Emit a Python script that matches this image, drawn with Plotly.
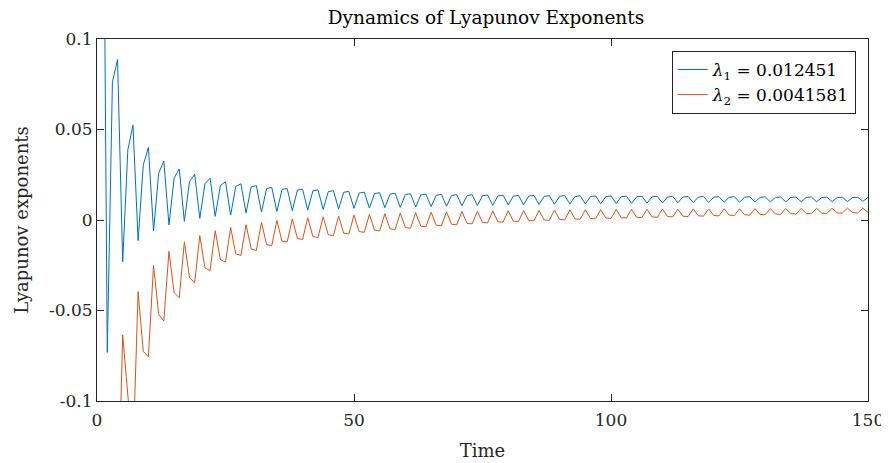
import plotly.graph_objects as go

# time steps
time = list(range(1, 151))

# lambda_1 running estimate (blue)
lyap1 = [
    0.3000, -0.0732, 0.0762, 0.0887, -0.0231, 0.0387, 0.0524, -0.0114, 0.0304, 0.0400,
    -0.0061, 0.0258, 0.0326, -0.0028, 0.0231, 0.0282, -0.0008, 0.0212, 0.0253, 0.0009,
    0.0200, 0.0231, 0.0020, 0.0190, 0.0212, 0.0027, 0.0185, 0.0200, 0.0038, 0.0183,
    0.0190, 0.0044, 0.0174, 0.0180, 0.0047, 0.0169, 0.0174, 0.0052, 0.0166, 0.0170,
    0.0055, 0.0161, 0.0166, 0.0058, 0.0157, 0.0162, 0.0061, 0.0153, 0.0158, 0.0064,
    0.0149, 0.0154, 0.0066, 0.0146, 0.0151, 0.0068, 0.0143, 0.0148, 0.0070, 0.0141,
    0.0145, 0.0072, 0.0139, 0.0143, 0.0074, 0.0137, 0.0141, 0.0076, 0.0136, 0.0140,
    0.0078, 0.0135, 0.0139, 0.0080, 0.0134, 0.0138, 0.0081, 0.0133, 0.0137, 0.0083,
    0.0132, 0.0136, 0.0084, 0.0132, 0.0136, 0.0086, 0.0131, 0.0135, 0.0087, 0.0131,
    0.0135, 0.0088, 0.0130, 0.0134, 0.0089, 0.0130, 0.0133, 0.0090, 0.0129, 0.0133,
    0.0091, 0.0129, 0.0132, 0.0092, 0.0128, 0.0132, 0.0093, 0.0128, 0.0131, 0.0094,
    0.0127, 0.0131, 0.0095, 0.0127, 0.0130, 0.0096, 0.0127, 0.0130, 0.0097, 0.0126,
    0.0129, 0.0098, 0.0126, 0.0129, 0.0098, 0.0126, 0.0128, 0.0099, 0.0125, 0.0128,
    0.0100, 0.0125, 0.0127, 0.0100, 0.0125, 0.0127, 0.0101, 0.0125, 0.0127, 0.0101,
    0.0124, 0.0126, 0.0102, 0.0124, 0.0126, 0.0102, 0.0124, 0.0126, 0.0103, 0.0125,
]

# lambda_2 running estimate (red)
lyap2 = [
    -0.3500, -0.2000, -0.3000, -0.1710, -0.0635, -0.1040, -0.1300, -0.0396, -0.0726, -0.0756,
    -0.0251, -0.0521, -0.0558, -0.0173, -0.0402, -0.0429, -0.0121, -0.0319, -0.0347, -0.0086,
    -0.0264, -0.0279, -0.0059, -0.0218, -0.0233, -0.0041, -0.0187, -0.0196, -0.0026, -0.0160,
    -0.0168, -0.0013, -0.0136, -0.0142, -0.0002, -0.0118, -0.0121, 0.0006, -0.0103, -0.0107,
    0.0012, -0.0092, -0.0096, 0.0017, -0.0082, -0.0086, 0.0022, -0.0073, -0.0077, 0.0027,
    -0.0064, -0.0068, 0.0031, -0.0056, -0.0060, 0.0035, -0.0049, -0.0052, 0.0038, -0.0042,
    -0.0045, 0.0041, -0.0035, -0.0038, 0.0043, -0.0029, -0.0032, 0.0045, -0.0024, -0.0026,
    0.0047, -0.0019, -0.0021, 0.0048, -0.0014, -0.0016, 0.0050, -0.0010, -0.0012, 0.0051,
    -0.0006, -0.0008, 0.0052, -0.0003, -0.0005, 0.0053, 0.0000, -0.0002, 0.0055, 0.0003,
    0.0001, 0.0056, 0.0006, 0.0004, 0.0057, 0.0008, 0.0007, 0.0057, 0.0011, 0.0009,
    0.0058, 0.0013, 0.0011, 0.0059, 0.0015, 0.0013, 0.0059, 0.0017, 0.0015, 0.0060,
    0.0019, 0.0017, 0.0060, 0.0021, 0.0019, 0.0061, 0.0023, 0.0021, 0.0061, 0.0025,
    0.0023, 0.0062, 0.0027, 0.0025, 0.0062, 0.0029, 0.0027, 0.0063, 0.0031, 0.0029,
    0.0063, 0.0033, 0.0031, 0.0064, 0.0035, 0.0033, 0.0064, 0.0036, 0.0035, 0.0065,
    0.0038, 0.0036, 0.0065, 0.0039, 0.0038, 0.0066, 0.0041, 0.0039, 0.0066, 0.0042,
]

legend_names = ["<i>λ</i><sub>1</sub> = 0.012451", "<i>λ</i><sub>2</sub> = 0.0041581"]
x_ticks = [0, 50, 100, 150]
y_ticks = [-0.1, -0.05, 0, 0.05, 0.1]
y_ticktext = ["-0.1", "-0.05", "0", "0.05", "0.1"]

FONT = "DejaVu Serif"
AXC = "#262626"

fig = go.Figure()
fig.add_trace(go.Scatter(x=time, y=lyap1, mode="lines", name=legend_names[0],
                         line=dict(color="#0072BD", width=1)))
fig.add_trace(go.Scatter(x=time, y=lyap2, mode="lines", name=legend_names[1],
                         line=dict(color="#D95319", width=1)))

axis_common = dict(showline=True, linecolor=AXC, linewidth=1, mirror="ticks",
                   ticks="inside", ticklen=7, tickcolor=AXC, showgrid=False,
                   zeroline=False, automargin=False,
                   tickfont=dict(family=FONT, size=17, color=AXC))

# the page body has an 8px margin, so the figure is sized to fit the window
fig.update_layout(
    width=881, height=455,
    margin=dict(l=89, r=21, t=31, b=62, autoexpand=False),
    paper_bgcolor="white", plot_bgcolor="white",
    title=dict(text="Dynamics of Lyapunov Exponents", x=0.5425, xanchor="center",
               y=0.98, yanchor="middle", font=dict(family=FONT, size=18.5, color="black")),
    xaxis=dict(range=[0, 150], tickvals=x_ticks, ticklabelstandoff=4,
               title=dict(text="Time", font=dict(family=FONT, size=18, color=AXC), standoff=14),
               **axis_common),
    yaxis=dict(range=[-0.1, 0.1], tickvals=y_ticks, ticktext=y_ticktext,
               title=dict(text="Lyapunov exponents", font=dict(family=FONT, size=18, color=AXC), standoff=15),
               **axis_common),
    legend=dict(x=0.984, y=0.967, xanchor="right", yanchor="top",
                bgcolor="white", bordercolor=AXC, borderwidth=1,
                font=dict(family=FONT, size=17, color="black"),
                tracegroupgap=0, itemwidth=30),
    showlegend=True,
)

fig.write_html("out.html")
